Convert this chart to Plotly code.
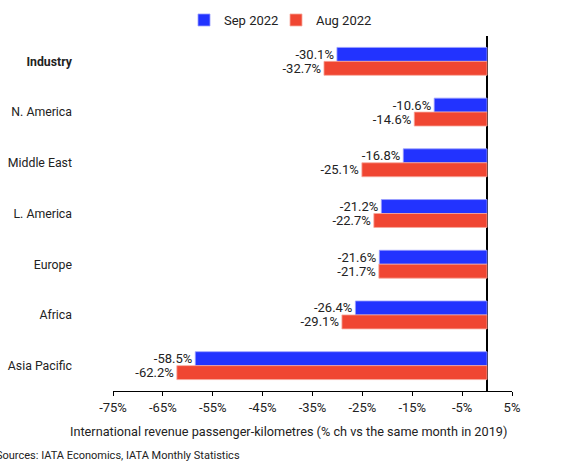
import plotly.graph_objects as go

categories = ["Industry", "N. America", "Middle East", "L. America", "Europe", "Africa", "Asia Pacific"]
tick_labels = ["<b>Industry</b>", "N. America", "Middle East", "L. America", "Europe", "Africa", "Asia Pacific"]
sep_2022 = [-30.1, -10.6, -16.8, -21.2, -21.6, -26.4, -58.5]
aug_2022 = [-32.7, -14.6, -25.1, -22.7, -21.7, -29.1, -62.2]
x_ticks = [-75, -65, -55, -45, -35, -25, -15, -5, 5]
x_tick_labels = [f"{v}%" for v in x_ticks]

FONT = "Roboto"
fig = go.Figure()
fig.add_trace(go.Bar(
    y=categories, x=sep_2022, orientation="h", name="Sep 2022", legend="legend",
    marker=dict(color="#2233ff", line=dict(color="#9aa0ff", width=0.8)),
    texttemplate="%{x:.1f}%", textposition="outside", cliponaxis=False,
    constraintext="none",
    textfont=dict(family=FONT, size=13, color="#222222"),
))
fig.add_trace(go.Bar(
    y=categories, x=aug_2022, orientation="h", name="Aug 2022", legend="legend2",
    marker=dict(color="#f04632", line=dict(color="#f7a89c", width=0.8)),
    texttemplate="%{x:.1f}%", textposition="outside", cliponaxis=False,
    constraintext="none",
    textfont=dict(family=FONT, size=13, color="#222222"),
))

legend_common = dict(orientation="h", xanchor="left", y=1.045, yanchor="middle",
                     font=dict(family=FONT, size=13, color="#222222"),
                     itemwidth=30, bgcolor="rgba(0,0,0,0)")
fig.update_layout(
    width=582, height=461,
    margin=dict(l=113, r=70, t=36, b=70, autoexpand=False),
    paper_bgcolor="white", plot_bgcolor="white",
    font=dict(family=FONT, size=13, color="#222222"),
    barmode="group", bargap=0.45, bargroupgap=0,
    legend=dict(x=(184 - 113) / 399, **legend_common),
    legend2=dict(x=(276 - 113) / 399, **legend_common),
    showlegend=True,
)
fig.update_yaxes(
    type="category", categoryorder="array", categoryarray=categories,
    tickvals=categories, ticktext=tick_labels, automargin=False,
    range=[6.5, -0.5], showgrid=False, showline=False, ticks="",
    ticklabelstandoff=40, tickfont=dict(family=FONT, size=12.3, color="#222222"),
)
fig.update_xaxes(
    range=[-75, 5], tickvals=x_ticks, ticktext=x_tick_labels, automargin=False,
    showgrid=False, showline=True, linecolor="black", linewidth=1,
    ticks="outside", ticklen=4, tickcolor="black", tickwidth=1,
    zeroline=True, zerolinecolor="black", zerolinewidth=1.5,
    tickfont=dict(family=FONT, size=13, color="#222222"),
)
fig.add_annotation(
    text="International revenue passenger-kilometres (% ch vs the same month in 2019)",
    xref="paper", yref="paper", x=(288 - 113) / 399, y=-(431 - 391) / 355,
    xanchor="center", yanchor="middle", showarrow=False,
    font=dict(family=FONT, size=12.7, color="#222222"),
)
fig.add_annotation(
    text="Sources: IATA Economics, IATA Monthly Statistics",
    xref="paper", yref="paper", x=-(113 + 6) / 399, y=-(455 - 391) / 355,
    xanchor="left", yanchor="middle", showarrow=False,
    font=dict(family=FONT, size=11, color="#222222"),
)
fig.write_html("out.html", config={"displayModeBar": False},
               post_script="document.body.style.margin='0';")
